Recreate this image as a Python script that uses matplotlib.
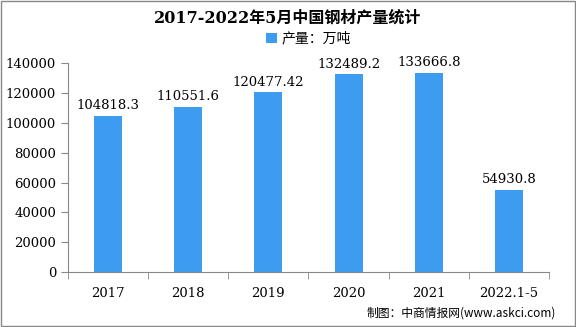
import matplotlib
matplotlib.use("Agg")
import matplotlib.pyplot as plt
from matplotlib.patches import Rectangle

plt.rcParams['font.family'] = ['DejaVu Serif', 'Noto Sans CJK SC']

years = ['2017', '2018', '2019', '2020', '2021', '2022.1-5']
output = [104818.3, 110551.6, 120477.42, 132489.2, 133666.8, 54930.8]
labels = ['104818.3', '110551.6', '120477.42', '132489.2', '133666.8', '54930.8']

fig = plt.figure(figsize=(5.76, 3.27), dpi=100)
ax = fig.add_axes([0.118, 0.168, 0.835, 0.639])

x = range(len(years))
ax.bar(x, output, width=0.35, color='#3D9CF0', label='产量：万吨')
for i, v in enumerate(output):
    ax.text(i, v + 2500, labels[i], ha='center', va='bottom', fontsize=9.5)

ax.set_xlim(-0.5, len(years) - 0.5)
ax.set_ylim(0, 140000)
ax.set_yticks(range(0, 140001, 20000))
ax.set_xticks(x)
ax.set_xticklabels(years, fontsize=9.5)
ax.set_xticks([i - 0.5 for i in range(len(years) + 1)], minor=True)
ax.tick_params(axis='x', which='major', length=0, pad=11)
ax.tick_params(axis='x', which='minor', length=5, color='#888888')
ax.tick_params(axis='y', length=5, color='#888888', labelsize=9.5)
for s in ['top', 'right']:
    ax.spines[s].set_visible(False)
for s in ['left', 'bottom']:
    ax.spines[s].set_color('#888888')

fig.text(0.5, 0.945, '2017-2022年5月中国钢材产量统计', ha='center', va='center',
         fontsize=11.5, fontweight='bold', family=['DejaVu Serif', 'Noto Sans CJK SC'])
ax.legend(loc='upper center', bbox_to_anchor=(0.5, 1.21), frameon=False,
          handlelength=0.8, handleheight=0.8, handletextpad=0.3,
          prop={'family': ['Noto Sans CJK SC'], 'size': 10})
fig.text(0.965, 0.042, '制图：中商情报网(www.askci.com)', ha='right', va='center',
         fontsize=8.5, family=['Noto Sans CJK SC', 'DejaVu Sans'])
fig.patches.append(Rectangle((0.002, 0.003), 0.996, 0.994, transform=fig.transFigure,
                             fill=False, edgecolor='#888888', linewidth=1))

fig.savefig('out.png', dpi=100)
